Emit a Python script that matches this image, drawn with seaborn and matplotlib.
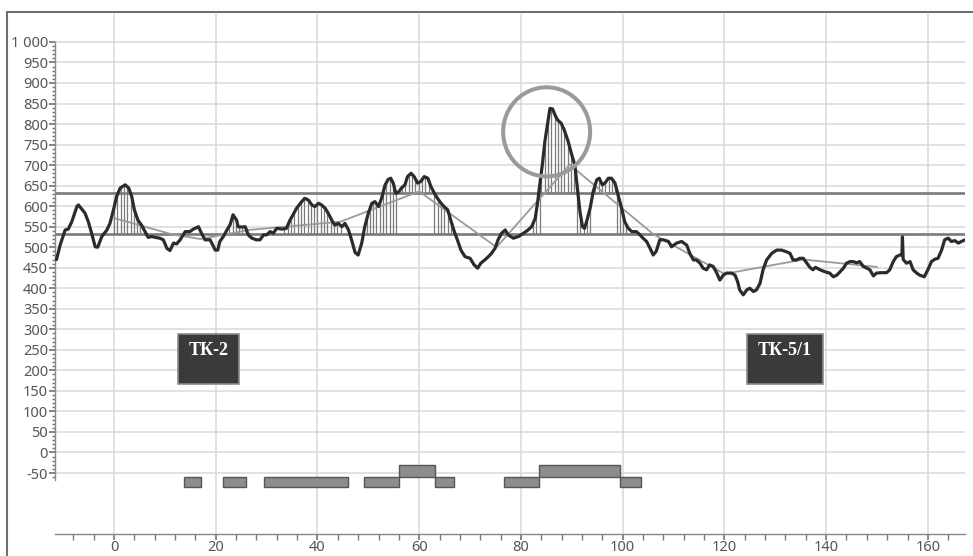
import numpy as np
import pandas as pd
import matplotlib
matplotlib.use("Agg")
import matplotlib.pyplot as plt
from matplotlib.patches import Rectangle, Ellipse
from matplotlib.ticker import MultipleLocator, FixedLocator, FuncFormatter
import seaborn as sns

# Profile along the route: distance and measured level
dist = [-11.3, -10.6, -9.6, -9.0, -8.3, -7.3, -7.0, -5.7, -5.05, -4.4, -3.7, -3.2, -2.4, -1.4, -0.8,
        -0.1, 0.5, 1.2, 2.2, 2.9, 3.5, 4.0, 4.7, 5.4, 6.1, 6.7, 7.4, 8.1, 9.0, 9.7, 10.4, 11.0, 11.7,
        12.3, 13.0, 14.0, 14.9, 15.6, 16.6, 17.2, 17.9, 18.9, 19.9, 20.4, 20.8, 21.5, 22.2, 22.8, 23.4,
        24.1, 24.4, 25.1, 25.8, 26.4, 27.1, 28.0, 28.7, 29.4, 30.0, 30.7, 31.3, 32.0, 33.0, 33.9, 34.6,
        35.2, 35.9, 36.9, 37.5, 38.2, 38.9, 39.5, 40.2, 40.8, 41.5, 42.1, 42.8, 43.4, 44.1, 44.8, 45.4,
        46.1, 46.7, 47.4, 48.0, 48.7, 49.3, 50.0, 50.7, 51.3, 52.0, 52.6, 53.3, 53.9, 54.4, 54.9, 55.4,
        56.0, 56.5, 57.2, 57.7, 58.4, 59.0, 59.7, 60.3, 61.0, 61.7, 62.3, 63.0, 63.6, 64.3, 64.9, 65.6,
        66.2, 66.9, 67.5, 68.2, 69.0, 70.0, 70.8, 71.5, 72.1, 72.9, 73.6, 74.2, 74.9, 75.5, 76.2, 76.9,
        77.5, 78.5, 79.5, 80.5, 81.4, 82.1, 82.8, 83.3, 83.7, 84.2, 84.7, 85.3, 85.7, 86.2, 86.7, 87.2,
        87.9, 88.5, 89.3, 89.9, 90.6, 91.1, 91.6, 92.1, 92.5, 92.9, 93.6, 94.2, 94.9, 95.4, 96.0, 96.5,
        97.2, 97.8, 98.5, 99.1, 99.8, 100.4, 101.1, 101.8, 102.7, 103.4, 104.0, 104.7, 105.4, 106.0,
        106.6, 107.3, 108.0, 109.0, 109.6, 110.6, 111.6, 112.6, 113.2, 113.9, 114.5, 115.2, 115.8,
        116.5, 117.1, 117.8, 118.5, 119.1, 119.8, 120.4, 121.4, 122.1, 122.6, 123.0, 123.7, 124.4,
        125.0, 125.7, 126.3, 127.0, 127.6, 128.3, 129.3, 130.3, 131.2, 132.2, 132.9, 133.5, 134.2,
        134.8, 135.5, 136.2, 136.8, 137.4, 137.9, 138.8, 139.8, 140.7, 141.4, 142.1, 142.7, 143.4,
        144.0, 144.7, 145.3, 146.0, 146.6, 147.3, 148.0, 148.6, 149.3, 149.9, 150.9, 151.9, 152.5,
        153.2, 153.8, 154.5, 154.9, 155.0, 155.15, 155.8, 156.5, 157.1, 157.8, 158.4, 159.3, 160.0,
        160.7, 161.4, 162.0, 162.7, 163.3, 164.0, 164.6, 165.3, 166.0, 166.6, 167.3]
level = [470, 505, 542, 544, 562, 599, 603, 583, 562, 534, 501, 500, 526, 542, 558,
         591, 623, 644, 652, 644, 623, 591, 566, 554, 538, 524, 526, 524, 522, 518, 497, 492, 510,
         508, 518, 538, 538, 544, 550, 534, 518, 518, 493, 493, 514, 526, 542, 554, 579,
         566, 550, 549, 550, 530, 522, 518, 518, 530, 530, 538, 534, 546, 544, 546, 566,
         579, 595, 611, 619, 615, 603, 599, 607, 603, 595, 583, 566, 554, 558, 550, 558,
         542, 518, 487, 481, 510, 550, 583, 607, 611, 599, 619, 652, 665, 668, 656, 631,
         635, 644, 652, 672, 680, 672, 656, 660, 672, 668, 648, 631, 619, 607, 599, 591,
         566, 538, 518, 493, 477, 473, 457, 449, 461, 469, 477, 485, 497, 518, 534, 542,
         530, 522, 526, 534, 542, 550, 570, 611, 652, 700, 757, 806, 838, 837, 822, 810,
         802, 786, 757, 729, 700, 644, 587, 550, 546, 562, 595, 635, 664, 668, 652, 656,
         668, 668, 656, 627, 595, 562, 546, 538, 538, 530, 522, 514, 497, 481,
         490, 518, 518, 514, 501, 510, 514, 505, 485, 469, 469, 461, 449,
         445, 457, 453, 437, 420, 432, 437, 437, 432, 416, 396, 384, 396,
         400, 392, 396, 412, 445, 469, 485, 493, 493, 489, 485, 469, 469,
         473, 473, 461, 451, 445, 451, 445, 440, 437, 428, 432, 440, 449,
         461, 465, 465, 462, 465, 453, 449, 445, 430, 437, 438, 438, 445,
         465, 477, 481, 481, 525, 470, 461, 465, 445, 437, 432, 428, 445,
         465, 471, 473, 493, 518, 522, 514, 516, 510, 514, 518]

# Smoothed trend through the profile
trend_dist = [0.3, 11.5, 17.0, 26.5, 44.5, 60.0, 75.2, 89.6, 106.0, 120.0, 135.5, 150.0]
trend_level = [570, 531, 520, 542, 562, 636, 500, 701, 532, 435, 470, 452]

# Threshold levels
upper_limit = 632
lower_limit = 531

# Exceedance intervals (hatched) measured from the lower and upper limits
lower_hatch = [(0.0, 5.2), (22.0, 26.0), (33.5, 44.8), (49.0, 55.5), (63.0, 66.6),
               (82.4, 84.0), (91.0, 93.6), (98.8, 101.0)]
upper_hatch = [(56.0, 62.6), (84.0, 91.0), (94.0, 98.6)]

# Zone strips below the chart: (start, end)
zones_low = [(13.7, 17.2), (21.5, 26.0), (29.5, 46.0), (49.2, 56.0), (63.2, 66.8),
             (76.6, 83.5), (99.5, 103.6)]
zones_high = [(56.0, 63.2), (83.5, 99.5)]
zone_low_band = (-83, -59)
zone_high_band = (-59, -31)

# Station labels: text, x-span, y-span
stations = ["ТК-2", "ТК-5/1"]
station_x = [(12.6, 24.6), (124.5, 139.4)]
station_y = (166, 288)

x_ticks = [0, 20, 40, 60, 80, 100, 120, 140, 160]
y_ticks = list(range(-50, 1001, 50))

sns.set_theme(style="white")
plt.rcParams["font.family"] = ["Noto Sans", "DejaVu Sans"]

W, H = 973, 556
fig = plt.figure(figsize=(W / 100, H / 100), dpi=100)
ax = fig.add_axes([55 / W, (H - 534) / H, (965 - 55) / W, (534 - 14) / H])
ax.set_xlim(-11.6, 167.3)
ax.set_ylim(-198.5, 1068)

# grid
for v in y_ticks:
    ax.axhline(v, color="#d9d9d9", lw=1.1, zorder=0)
for v in x_ticks:
    ax.axvline(v, color="#d9d9d9", lw=1.1, zorder=0)

prof = pd.DataFrame({"dist": dist, "level": level})
trend = pd.DataFrame({"dist": trend_dist, "level": trend_level})

# hatching of exceedances
xd = np.asarray(dist)
yd = np.asarray(level)
for intervals, base in ((lower_hatch, lower_limit), (upper_hatch, upper_limit)):
    for a, b in intervals:
        xs = np.arange(a, b + 1e-9, 0.65)
        ys = np.interp(xs, xd, yd)
        m = ys > base
        ax.vlines(xs[m], base, ys[m], color="#7a7a7a", lw=0.9, zorder=1)

ax.axhline(upper_limit, color="#7a7a7a", lw=1.9, zorder=2)
ax.axhline(lower_limit, color="#7a7a7a", lw=1.9, zorder=2)

sns.lineplot(data=trend, x="dist", y="level", ax=ax, color="#9a9a9a", lw=1.3,
             sort=False, estimator=None, zorder=3)
sns.lineplot(data=prof, x="dist", y="level", ax=ax, color="#2b2b2b", lw=2.3,
             sort=False, estimator=None, zorder=4)

# zone strips
for zones, (b0, b1) in ((zones_low, zone_low_band), (zones_high, zone_high_band)):
    starts = [z[0] for z in zones]
    widths = [z[1] - z[0] for z in zones]
    ax.bar(starts, [b1 - b0] * len(zones), width=widths, bottom=b0, align="edge",
           color="#8c8c8c", edgecolor="#555555", linewidth=1.0, zorder=3)

# station labels
for name, (x0, x1) in zip(stations, station_x):
    ax.add_patch(Rectangle((x0, station_y[0]), x1 - x0, station_y[1] - station_y[0],
                           facecolor="#3a3a3a", edgecolor="#8a8a8a", lw=1.2, zorder=5))
    ax.text((x0 + x1) / 2, 249, name, color="white", ha="center", va="center",
            fontsize=13, fontweight="bold", family=["Liberation Serif", "DejaVu Serif"],
            zorder=6)

# highlighted peak
ax.add_patch(Ellipse((85.05, 781), 17.1, 217, fill=False, edgecolor="#9a9a9a",
                     lw=2.9, zorder=6))

# axes styling
ax.set_xlabel("")
ax.set_ylabel("")
ax.xaxis.set_major_locator(FixedLocator(x_ticks))
ax.xaxis.set_minor_locator(MultipleLocator(4))
ax.yaxis.set_major_locator(FixedLocator(y_ticks))
ax.yaxis.set_minor_locator(FixedLocator(list(range(-60, 1001, 10))))
ax.yaxis.set_major_formatter(FuncFormatter(lambda v, p: f"{int(v):,}".replace(",", " ")))
ax.tick_params(axis="both", which="both", direction="out", colors="#777777",
               labelcolor="#555555", labelsize=10.5)
ax.tick_params(axis="y", which="major", length=4, pad=1, left=True)
ax.tick_params(axis="y", which="minor", length=2, left=True)
ax.tick_params(axis="x", which="major", length=4, pad=0.5, bottom=True)
ax.tick_params(axis="x", which="minor", length=4, bottom=True)
for s in ("top", "right"):
    ax.spines[s].set_visible(False)
ax.spines["left"].set_bounds(-67, 1000)
ax.spines["left"].set_color("#888888")
ax.spines["bottom"].set_color("#888888")
ax.spines["left"].set_linewidth(1.0)
ax.spines["bottom"].set_linewidth(1.0)

# outer frame
fig.add_artist(Rectangle((7 / W, -0.1), 1.2, (H - 12) / H + 0.1, transform=fig.transFigure,
                         fill=False, edgecolor="#707070", lw=1.5))

fig.savefig("out.png", dpi=100, facecolor="white")
